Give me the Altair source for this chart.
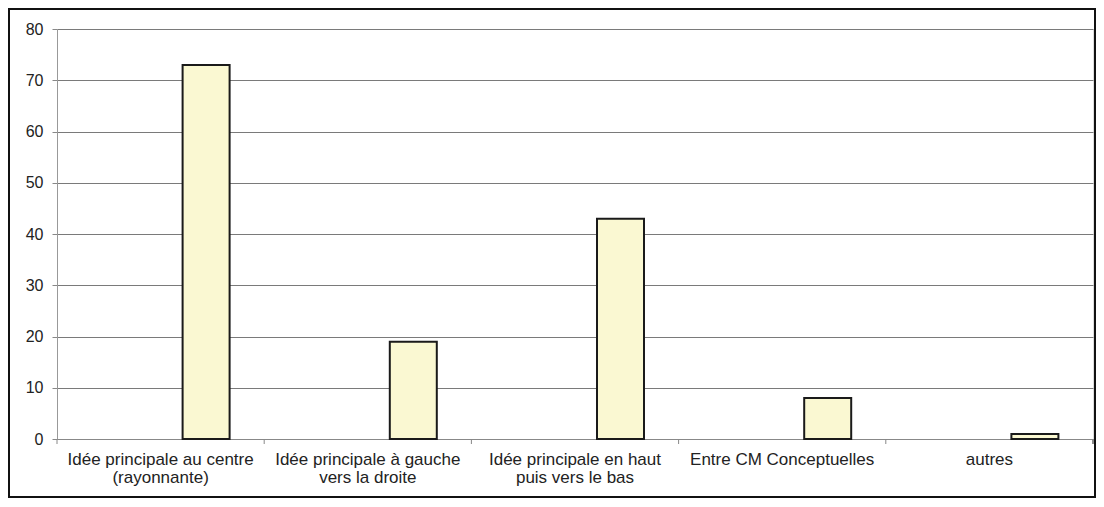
import altair as alt
import pandas as pd

categories = [
    "Idée principale au centre\n(rayonnante)",
    "Idée principale à gauche\nvers la droite",
    "Idée principale en haut\npuis vers le bas",
    "Entre CM Conceptuelles",
    "autres",
]
values = [73, 19, 43, 8, 1]
y_ticks = [0, 10, 20, 30, 40, 50, 60, 70, 80]

df = pd.DataFrame({"cat": categories, "val": values})

W, H = 1036, 410
FONT = "Liberation Sans"

xscale = alt.Scale(domain=categories, paddingInner=0, paddingOuter=0)
yscale = alt.Scale(domain=[0, 80], nice=False)

base = alt.Chart(df)

bars = base.mark_bar(
    width=47, xOffset=45.5, fill="#FAF8D2", stroke="#1a1a1a", strokeWidth=2
).encode(
    x=alt.X(
        "cat:N",
        scale=xscale,
        sort=categories,
        title=None,
        axis=alt.Axis(
            labelAngle=0,
            ticks=False,
            labelPadding=12,
            labelFontSize=17,
            labelLineHeight=18,
            labelColor="#222",
            labelFont=FONT,
            labelExpr="split(datum.label, '\\n')",
            domainColor="#888",
            labelLimit=300,
        ),
    ),
    y=alt.Y(
        "val:Q",
        scale=yscale,
        title=None,
        axis=alt.Axis(
            values=y_ticks,
            grid=True,
            gridColor="#7a7a7a",
            domainColor="#999",
            tickColor="#888",
            tickSize=5,
            labelPadding=9,
            labelFontSize=16,
            labelColor="#222",
            labelFont=FONT,
        ),
    ),
)

xticks = base.mark_rule(color="#888", strokeWidth=1).encode(
    x=alt.X("cat:N", scale=xscale, sort=categories, bandPosition=0),
    y=alt.value(H),
    y2=alt.value(H + 5),
)

end_tick = base.mark_rule(color="#888", strokeWidth=1).encode(
    x=alt.value(W), y=alt.value(H), y2=alt.value(H + 5)
)

frame = base.mark_rect(fillOpacity=0, stroke="#111", strokeWidth=2).encode(
    x=alt.value(-48), x2=alt.value(W + 2), y=alt.value(-20), y2=alt.value(H + 58)
)

chart = (
    alt.layer(bars, xticks, end_tick, frame)
    .properties(
        width=W,
        height=H,
        autosize=alt.AutoSizeParams(type="none"),
        padding={"left": 49, "top": 21, "right": 3, "bottom": 59},
    )
    .configure_view(stroke=None)
    .configure(background="white")
)

chart.save("out.html", embed_options={"renderer": "svg", "actions": False})
